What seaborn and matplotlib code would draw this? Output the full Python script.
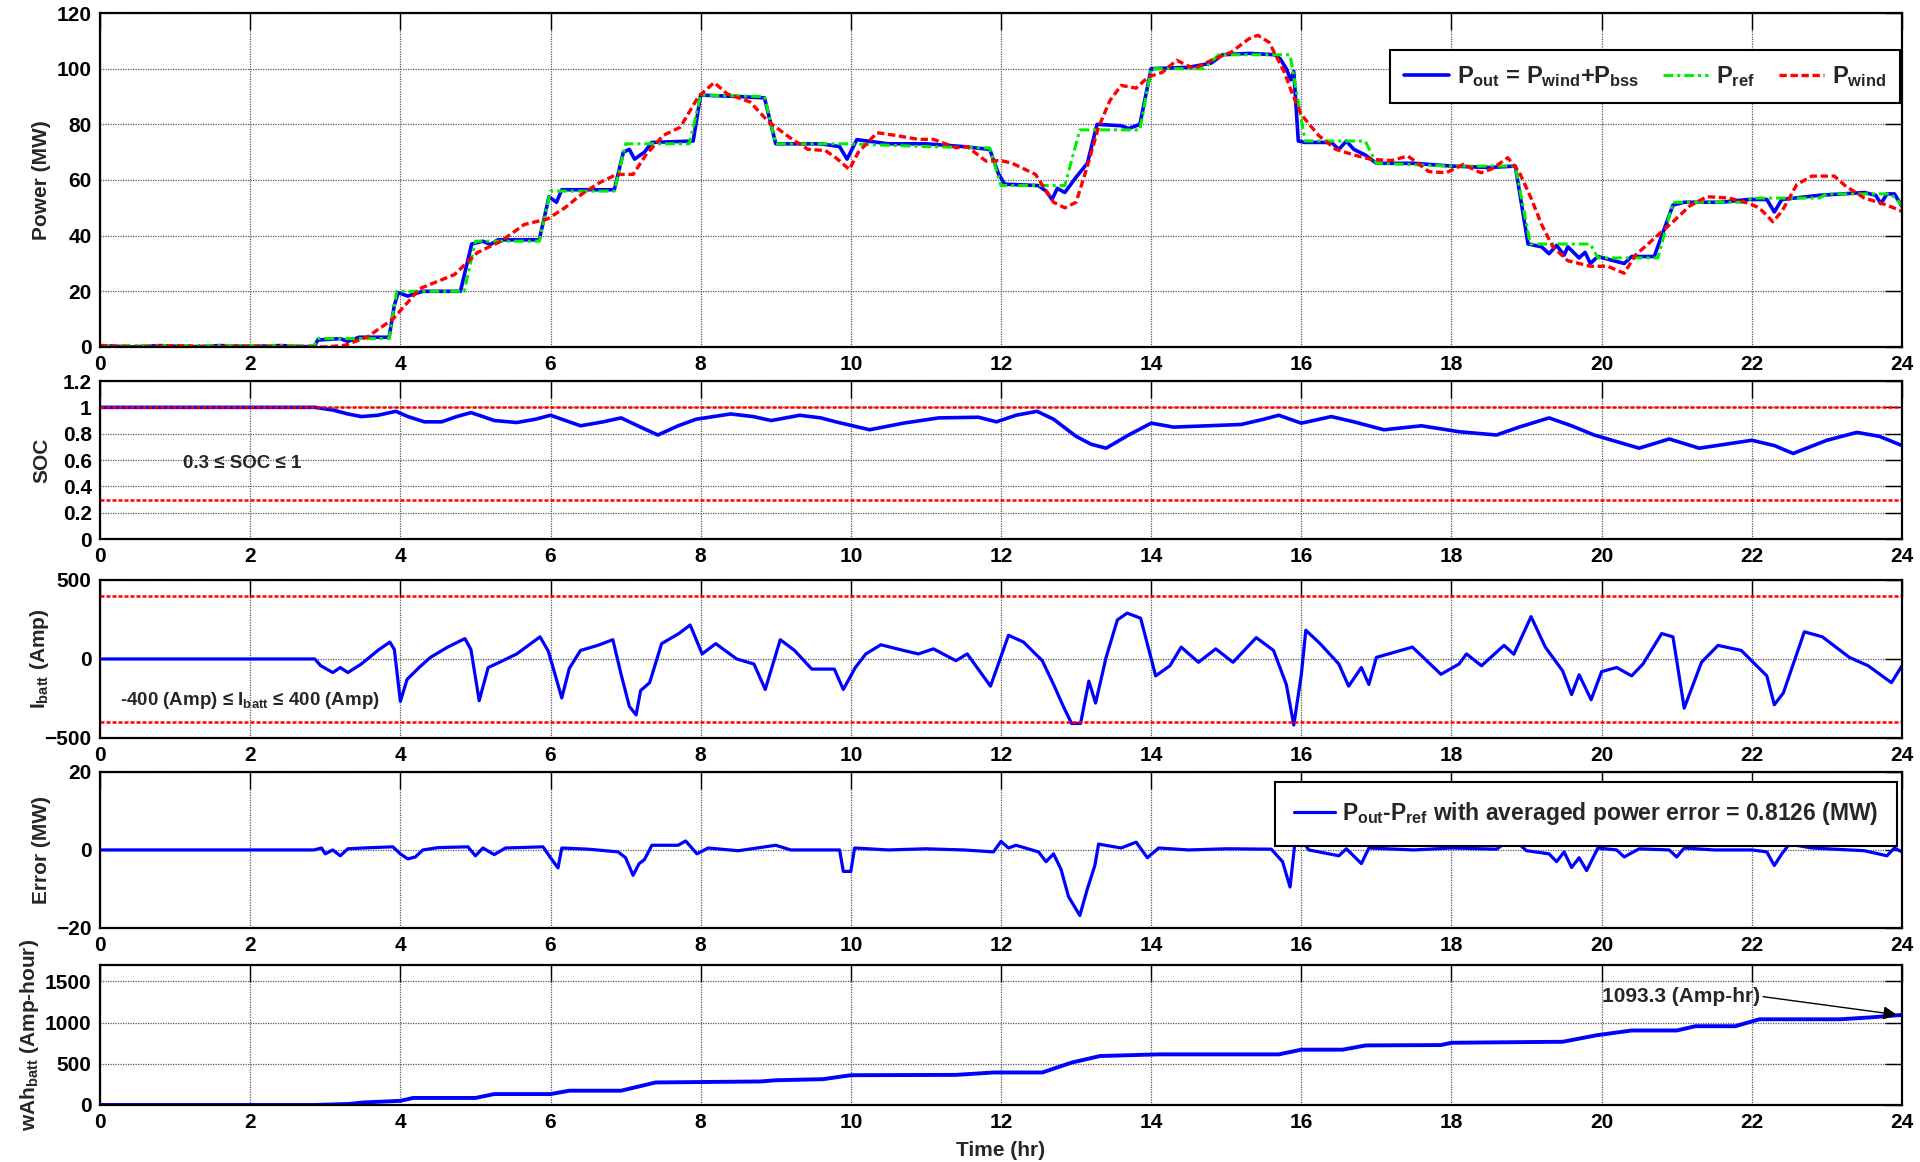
import matplotlib
matplotlib.use("Agg")
import matplotlib.pyplot as plt
import seaborn as sns
import pandas as pd
from matplotlib.ticker import FormatStrFormatter

# ---------------------------------------------------------------- data
# Power (MW) over the day: output, reference and raw wind power
pout_points = [(0, 0.5), (0.4, 0), (0.8, 0.5), (1.2, 0), (1.6, 0.5), (2.0, 0.2), (2.4, 0.5), (2.85, 0),
               (2.9, 2.5), (3.2, 3), (3.3, 2), (3.45, 3.5), (3.85, 3.5), (3.92, 15), (3.97, 19.5),
               (4.1, 18.3), (4.3, 20), (4.8, 20), (4.95, 37), (5.1, 38), (5.2, 36.8), (5.3, 38.5),
               (5.85, 38.5), (5.98, 54), (6.08, 52), (6.15, 56.5), (6.85, 56.5), (6.97, 70), (7.05, 71),
               (7.12, 67.5), (7.25, 70), (7.35, 73.5), (7.9, 74), (8.0, 90.5), (8.5, 90), (8.85, 89.5),
               (9.0, 73), (9.6, 73), (9.85, 72), (9.95, 67.5), (10.08, 74.5), (10.5, 73), (11.0, 73),
               (11.5, 72), (11.85, 71), (11.97, 62), (12.05, 58.5), (12.5, 58), (12.6, 56), (12.68, 53),
               (12.75, 57), (12.85, 55.5), (13.0, 61), (13.15, 66), (13.28, 80), (13.6, 79.5),
               (13.7, 78.5), (13.85, 80), (14.0, 100), (14.5, 100.5), (14.8, 102), (14.95, 105),
               (15.3, 105.5), (15.65, 105), (15.72, 103.5), (15.8, 100), (15.86, 96), (15.9, 99),
               (15.96, 74), (16.05, 73.5), (16.4, 73.5), (16.5, 71), (16.6, 74), (16.7, 71), (16.85, 69),
               (17.0, 66), (17.5, 66), (18.0, 65), (18.5, 64.5), (18.85, 65), (19.02, 37), (19.2, 36),
               (19.3, 33.5), (19.4, 36.5), (19.5, 33), (19.55, 36), (19.7, 32), (19.78, 34), (19.85, 30),
               (19.95, 32.5), (20.3, 30), (20.4, 32.5), (20.7, 32.5), (20.95, 51), (21.1, 52),
               (21.6, 52), (21.95, 53), (22.2, 53), (22.3, 48.5), (22.4, 53), (22.9, 54.5), (23.5, 55.5),
               (23.65, 54.5), (23.72, 51.5), (23.8, 55), (23.9, 55), (24.0, 50.5)]

pref_points = [(0, 0.5), (2.85, 0.5), (2.9, 3), (3.85, 3), (3.95, 20), (4.85, 20), (5.0, 38), (5.85, 38),
               (6.0, 56), (6.85, 56), (7.0, 73), (7.85, 73), (8.0, 90.5), (8.85, 90), (9.0, 73),
               (9.95, 73), (11.0, 72), (11.85, 71.5), (12.0, 58), (12.85, 58), (13.05, 78), (13.85, 78),
               (14.0, 100), (14.7, 100), (14.9, 105), (15.85, 105), (16.05, 74), (16.85, 74), (17.0, 66),
               (18.0, 65), (18.85, 65), (19.05, 37), (19.85, 37), (19.95, 32), (20.75, 32), (20.95, 52),
               (21.9, 52), (22.0, 53.5), (22.9, 53.5), (23.0, 55), (23.85, 55), (24.0, 51)]

pwind_points = [(0, 0.5), (0.5, 0), (1, 0.5), (1.5, 0), (2, 0.3), (2.5, 0), (3.0, 0), (3.26, 0.6),
                (3.56, 3.6), (3.9, 10), (4.26, 21), (4.72, 26), (5.03, 34), (5.34, 38), (5.65, 44),
                (5.96, 46), (6.19, 50), (6.42, 55), (6.65, 59), (6.88, 62), (7.1, 62), (7.27, 69),
                (7.5, 76), (7.73, 79), (7.97, 90), (8.18, 95), (8.35, 91), (8.66, 88), (8.9, 81),
                (9.2, 75), (9.43, 71), (9.66, 70.6), (9.8, 68), (9.98, 63.8), (10.1, 70), (10.35, 77),
                (10.6, 76), (10.9, 74.6), (11.1, 74.6), (11.4, 71.6), (11.55, 72), (11.8, 66.8),
                (12.0, 67), (12.15, 66), (12.46, 62), (12.7, 52), (12.85, 50), (13.0, 52), (13.14, 64),
                (13.3, 79), (13.45, 88.5), (13.6, 94), (13.8, 93), (13.96, 97), (14.15, 98.7),
                (14.34, 103), (14.57, 100), (14.8, 103), (15.07, 106), (15.3, 110.7), (15.42, 112),
                (15.57, 109.5), (15.77, 99), (15.88, 91), (16.0, 83.5), (16.23, 76), (16.46, 71),
                (16.7, 69), (16.93, 67.4), (17.2, 67), (17.42, 68.6), (17.7, 63), (17.93, 62.6),
                (18.16, 65.6), (18.39, 62.6), (18.54, 64), (18.75, 68), (18.9, 63), (19.06, 53.5),
                (19.2, 44), (19.35, 36), (19.55, 31), (19.85, 29), (20.08, 29), (20.3, 26.5),
                (20.45, 33), (20.7, 39), (20.95, 45), (21.17, 50.6), (21.4, 54), (21.7, 53.5),
                (21.95, 51.7), (22.1, 50), (22.28, 45), (22.4, 48.7), (22.6, 58.4), (22.8, 61.4),
                (23.1, 61.4), (23.25, 57.8), (23.5, 53.5), (23.8, 51), (24, 48.7)]

# Battery state of charge (p.u.)
soc_points = [(0, 1.0), (2.86, 1.0), (3.1, 0.98), (3.3, 0.95), (3.48, 0.93), (3.7, 0.94), (3.94, 0.97),
              (4.1, 0.93), (4.32, 0.89), (4.55, 0.89), (4.75, 0.93), (4.94, 0.96), (5.1, 0.93),
              (5.25, 0.90), (5.55, 0.885), (5.8, 0.91), (6.0, 0.94), (6.2, 0.9), (6.4, 0.86),
              (6.7, 0.89), (6.94, 0.92), (7.2, 0.85), (7.43, 0.79), (7.7, 0.86), (7.94, 0.91),
              (8.4, 0.95), (8.7, 0.93), (8.94, 0.90), (9.32, 0.94), (9.6, 0.92), (9.8, 0.89),
              (10.25, 0.83), (10.7, 0.88), (11.17, 0.92), (11.7, 0.925), (11.94, 0.89), (12.2, 0.94),
              (12.48, 0.97), (12.7, 0.91), (13.0, 0.78), (13.2, 0.72), (13.4, 0.69), (13.7, 0.79),
              (14.0, 0.88), (14.3, 0.85), (15.2, 0.87), (15.5, 0.91), (15.7, 0.94), (16.0, 0.88),
              (16.4, 0.93), (16.7, 0.89), (17.1, 0.83), (17.6, 0.86), (18.1, 0.815), (18.6, 0.79),
              (18.9, 0.85), (19.3, 0.92), (19.6, 0.86), (19.9, 0.79), (20.2, 0.74), (20.5, 0.69),
              (20.9, 0.76), (21.3, 0.69), (22.0, 0.75), (22.3, 0.71), (22.55, 0.65), (23.0, 0.75),
              (23.4, 0.81), (23.7, 0.78), (24, 0.71)]
soc_limits = [0.3, 1.0]

# Battery current (Amp)
ibatt_points = [(0, 0), (2.86, 0), (2.94, -43), (3.1, -86), (3.2, -54), (3.3, -86), (3.48, -32),
                (3.7, 54), (3.86, 107), (3.92, 60), (4.0, -268), (4.09, -129), (4.25, -54), (4.4, 10),
                (4.63, 75), (4.86, 129), (4.94, 60), (5.05, -264), (5.17, -54), (5.32, -21), (5.55, 32),
                (5.86, 140), (5.97, 50), (6.06, -97), (6.15, -247), (6.25, -60), (6.4, 54), (6.63, 86),
                (6.83, 122), (6.94, -97), (7.05, -300), (7.14, -354), (7.2, -200), (7.32, -150),
                (7.48, 97), (7.71, 161), (7.86, 215), (8.02, 32), (8.2, 97), (8.48, 0), (8.71, -32),
                (8.86, -193), (9.06, 122), (9.25, 54), (9.48, -64), (9.78, -64), (9.9, -193),
                (10.06, -54), (10.2, 32), (10.4, 90), (10.7, 54), (10.9, 32), (11.1, 64), (11.4, -11),
                (11.55, 32), (11.86, -172), (12.1, 150), (12.3, 107), (12.55, -11), (12.7, -161),
                (12.83, -300), (12.94, -408), (13.06, -408), (13.17, -140), (13.26, -279), (13.4, 10),
                (13.55, 247), (13.68, 290), (13.86, 258), (14.06, -107), (14.25, -43), (14.4, 75),
                (14.63, -21), (14.86, 64), (15.09, -21), (15.4, 135), (15.63, 54), (15.8, -161),
                (15.9, -418), (16.0, -100), (16.06, 182), (16.25, 97), (16.5, -32), (16.63, -172),
                (16.8, -54), (16.9, -161), (17.0, 10), (17.48, 75), (17.86, -97), (18.1, -32),
                (18.2, 32), (18.4, -43), (18.7, 86), (18.83, 30), (19.06, 268), (19.25, 75),
                (19.48, -75), (19.6, -225), (19.7, -100), (19.86, -258), (20.0, -80), (20.2, -54),
                (20.4, -107), (20.55, -32), (20.8, 161), (20.95, 140), (21.1, -311), (21.33, -21),
                (21.55, 86), (21.86, 54), (22.2, -107), (22.3, -290), (22.42, -215), (22.7, 172),
                (22.94, 140), (23.3, 10), (23.55, -43), (23.86, -150), (24.0, -43)]
ibatt_limits = [-400, 400]

# Tracking error Pout - Pref (MW)
error_points = [(0, 0), (2.85, 0), (2.95, 0.5), (3.0, -1), (3.1, 0), (3.2, -1.5), (3.3, 0.3), (3.5, 0.5),
                (3.9, 0.8), (4.0, -1), (4.1, -2.3), (4.2, -1.8), (4.3, 0), (4.5, 0.6), (4.9, 0.8),
                (5.0, -1.5), (5.1, 0.5), (5.25, -1.2), (5.4, 0.5), (5.9, 0.8), (6.0, -2), (6.1, -4.6),
                (6.15, 0.5), (6.5, 0.2), (6.9, -0.5), (7.0, -2), (7.1, -6.5), (7.18, -3.5), (7.25, -2.5),
                (7.35, 1.2), (7.7, 1.2), (7.8, 2.3), (7.95, -1), (8.1, 0.5), (8.5, -0.2), (9.0, 1.2),
                (9.2, 0), (9.85, 0), (9.9, -5.5), (10.0, -5.5), (10.05, 0.5), (10.5, 0), (11.0, 0.3),
                (11.5, 0), (11.9, -0.5), (12.0, 2.2), (12.1, 0.5), (12.2, 1.2), (12.5, -0.5),
                (12.6, -3), (12.7, -1), (12.8, -5), (12.9, -12), (13.05, -16.8), (13.15, -10),
                (13.25, -4), (13.3, 1.5), (13.6, 0.5), (13.8, 2), (13.95, -2), (14.1, 0.5), (14.5, 0),
                (15.0, 0.3), (15.6, 0.2), (15.75, -3), (15.85, -9.5), (15.92, 2.8), (16.0, 2.8),
                (16.1, 0), (16.5, -1.5), (16.6, 0.3), (16.8, -3.5), (16.9, 0.5), (17.5, 0), (18.0, 0.5),
                (18.6, 0.2), (18.75, 2.3), (18.9, 1.5), (19.0, -0.2), (19.3, -1), (19.4, -3),
                (19.5, -0.5), (19.6, -4.5), (19.7, -2), (19.8, -5.3), (19.95, 0.5), (20.2, 0),
                (20.3, -1.8), (20.5, 0.3), (20.9, 0), (21.0, -1.8), (21.1, 0.5), (21.5, 0), (22.0, 0),
                (22.2, -0.5), (22.3, -4), (22.4, -1), (22.5, 1.5), (22.8, 0.5), (23.5, -0.2),
                (23.8, -1.5), (23.9, 0.5), (24, -0.5)]
avg_power_error = 0.8126

# Cumulative battery throughput (Amp-hour)
wah_points = [(0, 0), (2.86, 0), (3.32, 12), (3.5, 30), (4.0, 50), (4.17, 85), (5.0, 85), (5.25, 132),
              (6.0, 132), (6.25, 173), (6.94, 173), (7.4, 273), (8.8, 285), (9.0, 300), (9.63, 313),
              (10.0, 361), (11.4, 365), (11.9, 394), (12.55, 394), (12.94, 514), (13.32, 594),
              (14.1, 614), (15.7, 614), (16.0, 671), (16.55, 671), (16.86, 723), (17.86, 727),
              (18.0, 755), (19.48, 767), (19.94, 847), (20.4, 904), (21.0, 904), (21.25, 956),
              (21.78, 956), (22.1, 1040), (23.17, 1040), (23.6, 1064), (24.0, 1093.3)]
wah_final = 1093.3

hour_ticks = list(range(0, 25, 2))


def frame(points):
    t, v = zip(*points)
    return pd.DataFrame({"t": t, "v": v})


# ---------------------------------------------------------------- style
sns.set_style("white")
plt.rcParams.update({
    "font.family": ["Liberation Sans", "DejaVu Sans"],
    "font.weight": "bold",
    "axes.labelweight": "bold",
    "mathtext.fontset": "custom",
    "mathtext.rm": "Liberation Sans:bold",
    "mathtext.it": "Liberation Sans:bold",
    "mathtext.bf": "Liberation Sans:bold",
    "mathtext.sf": "Liberation Sans:bold",
})

BLUE, GREEN, RED = "#0000ff", "#00ee00", "#ff0000"
TICK_FS, LABEL_FS = 15, 15
LIMIT_FS = 13.5

fig = plt.figure(figsize=(19.2, 11.62), dpi=100)
left, width = 0.0521, 0.9385
boxes = [(0.7014, 0.2874), (0.5361, 0.1360), (0.3649, 0.1360), (0.2014, 0.1343), (0.0491, 0.1205)]
axes = [fig.add_axes([left, b, width, h]) for b, h in boxes]


def style_axis(ax, ylim, yticks, ylabel, fmt=None, label_x=-0.027):
    ax.set_xlim(0, 24)
    ax.set_ylim(*ylim)
    ax.set_xticks(hour_ticks)
    ax.set_yticks(yticks)
    if fmt:
        ax.yaxis.set_major_formatter(FormatStrFormatter(fmt))
    ax.grid(True, color="0.35", linestyle=(0, (1, 1)), linewidth=0.9)
    ax.set_axisbelow(True)
    ax.tick_params(direction="in", length=12, width=1, top=True, right=True,
                   labelsize=TICK_FS, pad=6, colors="black")
    for lab in ax.get_xticklabels() + ax.get_yticklabels():
        lab.set_fontweight("bold")
    for s in ax.spines.values():
        s.set_linewidth(1.6)
        s.set_color("black")
    ax.set_xlabel("")
    ax.set_ylabel(ylabel, fontsize=LABEL_FS, fontweight="bold")
    ax.yaxis.set_label_coords(label_x, 0.5)


# ---- panel 1: power tracking
ax = axes[0]
sns.lineplot(data=frame(pout_points), x="t", y="v", ax=ax, color=BLUE, lw=2.6,
             estimator=None, sort=False, label=r"$P_{out}$ = $P_{wind}$+$P_{bss}$")
sns.lineplot(data=frame(pref_points), x="t", y="v", ax=ax, color=GREEN, lw=2.2,
             estimator=None, sort=False, linestyle=(0, (3.2, 1.3, 1.0, 1.3)), label=r"$P_{ref}$")
sns.lineplot(data=frame(pwind_points), x="t", y="v", ax=ax, color=RED, lw=2.4,
             estimator=None, sort=False, linestyle=(0, (2.2, 1.1)), label=r"$P_{wind}$")
style_axis(ax, (0, 120), range(0, 121, 20), "Power (MW)")
leg = ax.legend(loc="upper right", bbox_to_anchor=(0.999, 0.89), ncol=3, fontsize=17,
                frameon=True, fancybox=False, framealpha=1, edgecolor="black", borderaxespad=0,
                handlelength=1.9, handletextpad=0.35, columnspacing=1.0, borderpad=0.6)
leg.get_frame().set_linewidth(1.5)

# ---- panel 2: state of charge
ax = axes[1]
sns.lineplot(data=frame(soc_points), x="t", y="v", ax=ax, color=BLUE, lw=2.6,
             estimator=None, sort=False)
for lim in soc_limits:
    ax.axhline(lim, color=RED, lw=1.8, linestyle=(0, (1.6, 0.8)))
style_axis(ax, (0, 1.2), [0, 0.2, 0.4, 0.6, 0.8, 1.0, 1.2], "SOC", fmt="%g")
ax.text(1.9, 0.57, "0.3 \u2264 SOC \u2264 1", ha="center", va="center", fontsize=LIMIT_FS,
        fontweight="bold")

# ---- panel 3: battery current
ax = axes[2]
sns.lineplot(data=frame(ibatt_points), x="t", y="v", ax=ax, color=BLUE, lw=2.3,
             estimator=None, sort=False)
for lim in ibatt_limits:
    ax.axhline(lim, color=RED, lw=1.8, linestyle=(0, (1.6, 0.8)))
style_axis(ax, (-500, 500), [-500, 0, 500], r"I$_{batt}$ (Amp)")
ax.text(2.0, -265, "-400 (Amp) \u2264 I$_{batt}$ \u2264 400 (Amp)", ha="center", va="center",
        fontsize=LIMIT_FS, fontweight="bold")

# ---- panel 4: tracking error
ax = axes[3]
sns.lineplot(data=frame(error_points), x="t", y="v", ax=ax, color=BLUE, lw=2.3,
             estimator=None, sort=False,
             label=r"$P_{out}$-$P_{ref}$ with averaged power error = "
                   + f"{avg_power_error:.4f} (MW)")
style_axis(ax, (-20, 20), [-20, 0, 20], "Error (MW)")
leg = ax.legend(loc="upper right", bbox_to_anchor=(0.997, 0.936), fontsize=16.5,
                frameon=True, fancybox=False, framealpha=1, edgecolor="black", borderaxespad=0,
                handlelength=1.8, handletextpad=0.3, borderpad=0.8)
leg.get_frame().set_linewidth(1.5)

# ---- panel 5: cumulative amp-hours
ax = axes[4]
sns.lineplot(data=frame(wah_points), x="t", y="v", ax=ax, color=BLUE, lw=2.8,
             estimator=None, sort=False)
style_axis(ax, (0, 1700), [0, 500, 1000, 1500], r"wAh$_{batt}$ (Amp-hour)", label_x=-0.033)
ax.set_xlabel("Time (hr)", fontsize=LABEL_FS, fontweight="bold", labelpad=6)
ax.annotate(f"{wah_final:.1f} (Amp-hr)", xy=(23.95, wah_final), xytext=(20.0, 1320),
            ha="left", va="center", fontsize=15, fontweight="bold",
            arrowprops=dict(arrowstyle="-|>", color="black", lw=1.0, mutation_scale=20,
                            relpos=(1.0, 0.5), shrinkA=0, shrinkB=1))

fig.savefig("out.png", dpi=100)
